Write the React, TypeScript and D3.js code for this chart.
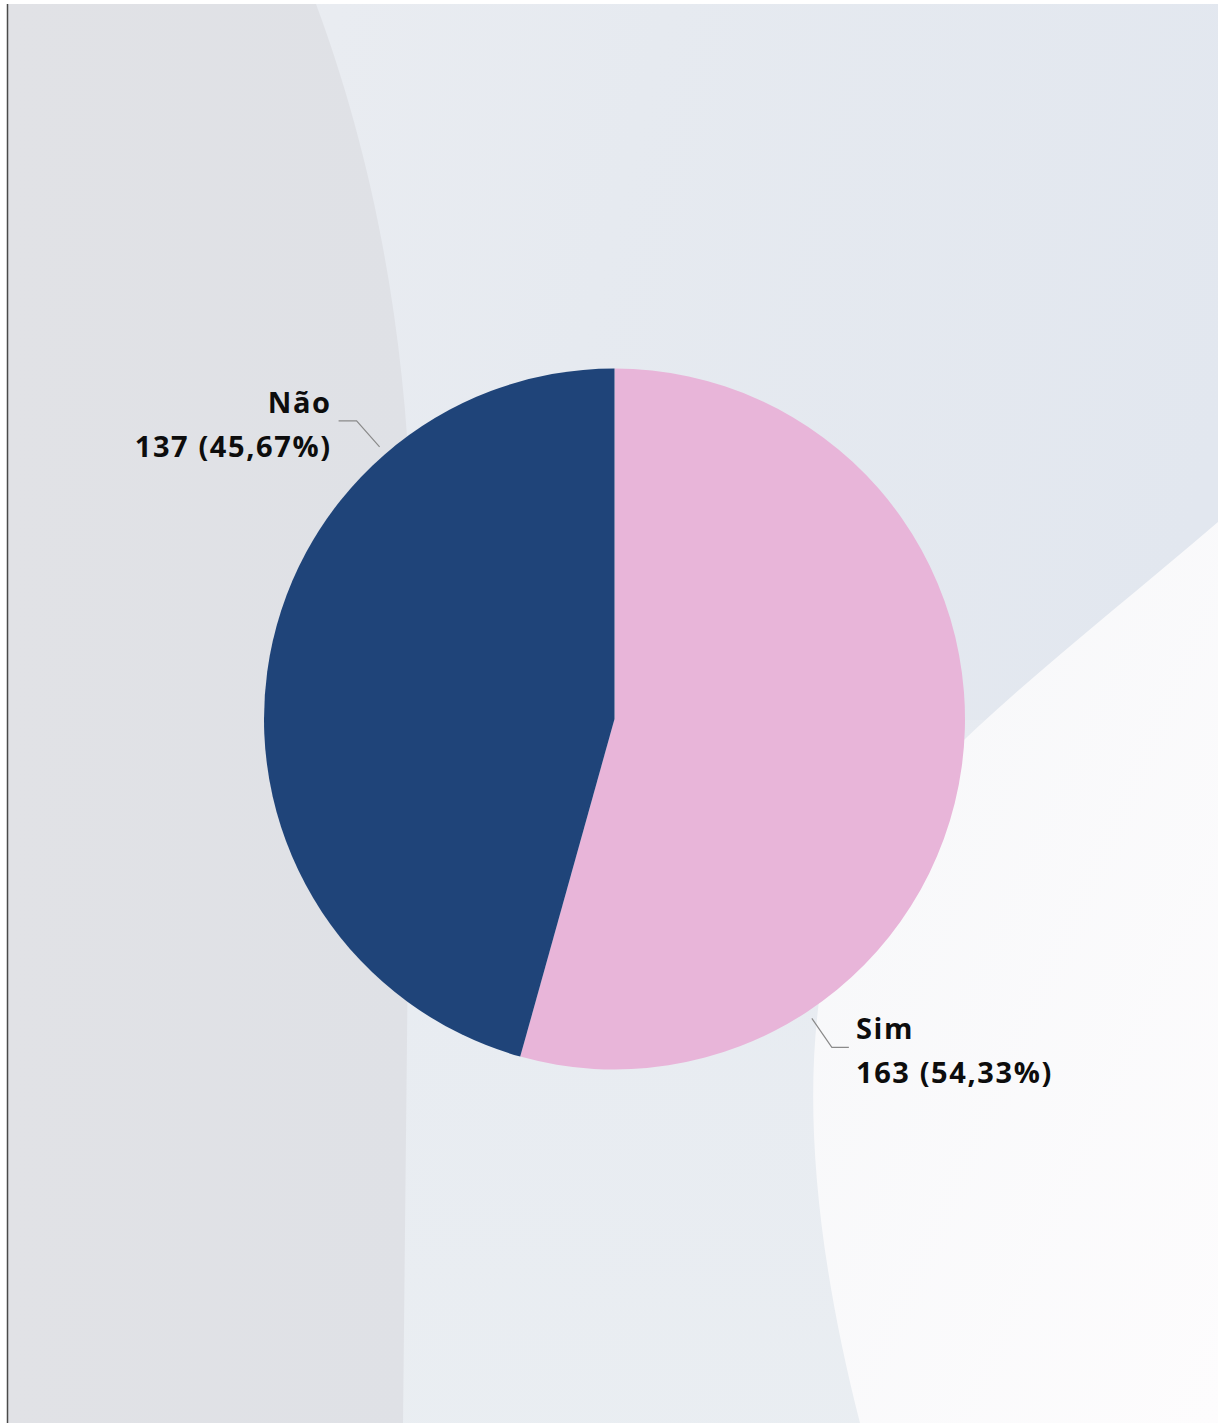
import React from "react";
import * as d3 from "d3";

const categories = ["Sim", "Não"];
const values = [163, 137];
const percentLabels = ["54,33%", "45,67%"];
const colors = ["#e8b5d9", "#1f4479"];

const W = 1218;
const H = 1423;
const cx = 614.5;
const cy = 719;
const R = 350.5;

export default function App() {
  const pie = d3.pie<number>().sort(null).startAngle(0).endAngle(2 * Math.PI);
  const arcs = pie(values);
  const arcGen = d3.arc<d3.PieArcDatum<number>>().innerRadius(0).outerRadius(R);

  // label layout (Power BI style outside labels)
  const labelAngles = [146.6, 319.2].map((a) => (a * Math.PI) / 180);
  const pt = (ang: number, r: number) => [cx + Math.sin(ang) * r, cy - Math.cos(ang) * r];
  const ls = 1.6;

  return (
    <div style={{ position: "absolute", left: 0, top: 0, width: W, height: H, background: "#fff" }}>
      <svg width={W} height={H} style={{ display: "block" }}>
        <defs>
          <linearGradient id="mid" x1="0" y1="0" x2="1" y2="0.3">
            <stop offset="0" stopColor="#eceef2" />
            <stop offset="0.5" stopColor="#e6eaf0" />
            <stop offset="1" stopColor="#e2e7ef" />
          </linearGradient>
          <linearGradient id="lowmid" x1="0" y1="0" x2="0" y2="1">
            <stop offset="0" stopColor="#e7ebf1" />
            <stop offset="1" stopColor="#eaeef2" />
          </linearGradient>
          <linearGradient id="white" x1="0" y1="0" x2="1" y2="1">
            <stop offset="0" stopColor="#f6f7f9" />
            <stop offset="1" stopColor="#fdfcfd" />
          </linearGradient>
          <linearGradient id="left" x1="0" y1="0" x2="1" y2="0">
            <stop offset="0" stopColor="#e1e2e6" />
            <stop offset="1" stopColor="#dfe1e6" />
          </linearGradient>
        </defs>
        {/* background frame */}
        <rect x={8} y={4} width={W - 8} height={H - 4} fill="url(#mid)" />
        <rect x={400} y={720} width={W - 400} height={H - 720} fill="url(#lowmid)" opacity={0.9} />
        <path
          d="M1218 522 C 1080 640, 960 730, 880 830 C 800 940, 790 1150, 860 1423 L1218 1423 Z"
          fill="url(#white)"
        />
        <path
          d="M8 4 L316 4 C 370 150, 410 330, 412 560 L 403 1423 L 8 1423 Z"
          fill="url(#left)"
        />
        <line x1={7.5} y1={4} x2={7.5} y2={H} stroke="#4a4a4a" strokeWidth={1.5} />

        {/* pie */}
        <g transform={`translate(${cx},${cy})`}>
          {arcs.map((a, i) => (
            <path key={categories[i]} d={arcGen(a) || ""} fill={colors[i]} />
          ))}
        </g>

        {/* leader lines */}
        {(() => {
          const [sx, sy] = pt(labelAngles[0], R + 8);
          const [ex, ey] = [sx + 20, sy + 29];
          return (
            <polyline
              points={`${sx},${sy} ${ex},${ey} ${ex + 17},${ey}`}
              fill="none"
              stroke="#8a8a8a"
              strokeWidth={1.2}
            />
          );
        })()}
        {(() => {
          const [sx, sy] = pt(labelAngles[1], R + 9);
          const [ex, ey] = [sx - 23, sy - 26];
          return (
            <polyline
              points={`${sx},${sy} ${ex},${ey} ${ex - 18},${ey}`}
              fill="none"
              stroke="#8a8a8a"
              strokeWidth={1.2}
            />
          );
        })()}

        {/* labels */}
        <g
          fontFamily="'Open Sans', 'Noto Sans', sans-serif"
          fontWeight={700}
          fontSize={29}
          fill="#0d0d0d"
          letterSpacing={ls}
        >
          <text x={856} y={1039} textAnchor="start">{categories[0]}</text>
          <text x={856} y={1083} textAnchor="start">{`${values[0]} (${percentLabels[0]})`}</text>
          <text x={330 + ls} y={413} textAnchor="end">{categories[1]}</text>
          <text x={330 + ls} y={457} textAnchor="end">{`${values[1]} (${percentLabels[1]})`}</text>
        </g>
      </svg>
    </div>
  );
}
